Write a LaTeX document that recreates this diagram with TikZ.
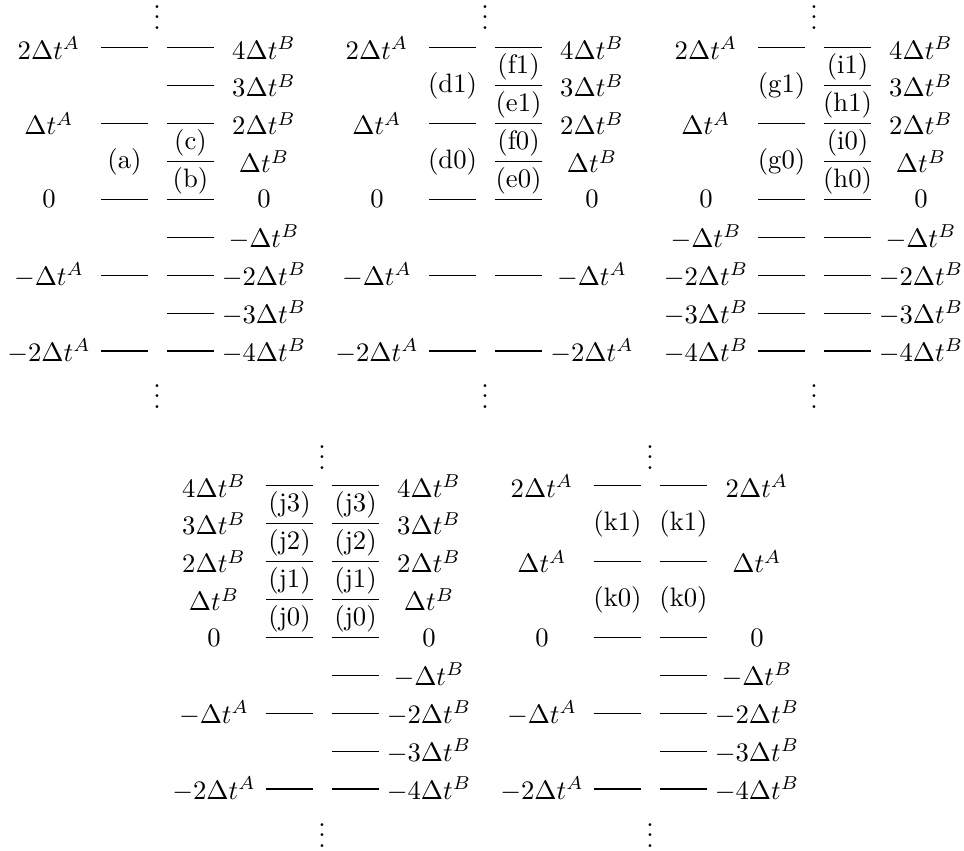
\documentclass[tikz,border=0pt]{standalone}
\newcommand\LevL[2]{\foreach \k/\t [count=\i] in {#2}{%
  \coordinate (#1La\i) at (-56,{-37.9*(\k)});
  \coordinate (#1Lb\i) at (-9,{-37.9*(\k)});
  \draw[lvl] (#1La\i) -- (#1Lb\i);
  \node[val] (#1Lt\i) at (-108,{-37.9*(\k)}) {$\t$};}}
\newcommand\LevR[2]{\foreach \k/\t [count=\i] in {#2}{%
  \coordinate (#1Ra\i) at (10,{-37.9*(\k)});
  \coordinate (#1Rb\i) at (57,{-37.9*(\k)});
  \draw[lvl] (#1Ra\i) -- (#1Rb\i);
  \node[val] (#1Rt\i) at (107,{-37.9*(\k)}) {$\t$};}}
\newcommand\TagN[4]{\node[tagn] (#1) at (#2,{-37.9*(#3)}) {#4};}
\begin{document}
\begin{tikzpicture}[x=0.375pt,y=-0.375pt,
  lvl/.style={line width=0.4pt},
  val/.style={inner sep=1pt},
  tagn/.style={inner sep=0pt},
  dots/.style={inner sep=0pt,anchor=base,text height=9.3pt,text depth=0pt}]
\useasboundingbox (0,0) rectangle (964,850);

% Panel 1
\begin{scope}[shift={(157,199.4)}]
\LevL{A}{4/2\Delta t^A, 2/\Delta t^A, 0/0, -2/-\Delta t^A, -4/-2\Delta t^A}
\LevR{A}{4/4\Delta t^B, 3/3\Delta t^B, 2/2\Delta t^B, 1/\Delta t^B, 0/0, -1/-\Delta t^B, -2/-2\Delta t^B, -3/-3\Delta t^B, -4/-4\Delta t^B}
\TagN{ta}{-32.5}{1}{(a)}
\TagN{tc}{33.5}{1.5}{(c)}
\TagN{tb}{33.5}{0.5}{(b)}
\node[dots] (Au) at (0,-170) {$\vdots$};
\node[dots] (Ad) at (0,209) {$\vdots$};
\end{scope}

% Panel 2
\begin{scope}[shift={(485,199.4)}]
\LevL{B}{4/2\Delta t^A, 2/\Delta t^A, 0/0, -2/-\Delta t^A, -4/-2\Delta t^A}
\LevR{B}{4/4\Delta t^B, 3/3\Delta t^B, 2/2\Delta t^B, 1/\Delta t^B, 0/0, -2/-\Delta t^A, -4/-2\Delta t^A}
\TagN{td1}{-32.5}{3}{(d1)}
\TagN{td0}{-32.5}{1}{(d0)}
\TagN{tf1}{33.5}{3.5}{(f1)}
\TagN{te1}{33.5}{2.5}{(e1)}
\TagN{tf0}{33.5}{1.5}{(f0)}
\TagN{te0}{33.5}{0.5}{(e0)}
\node[dots] (Bu) at (0,-170) {$\vdots$};
\node[dots] (Bd) at (0,209) {$\vdots$};
\end{scope}

% Panel 3
\begin{scope}[shift={(814,199.4)}]
\LevL{C}{4/2\Delta t^A, 2/\Delta t^A, 0/0, -1/-\Delta t^B, -2/-2\Delta t^B, -3/-3\Delta t^B, -4/-4\Delta t^B}
\LevR{C}{4/4\Delta t^B, 3/3\Delta t^B, 2/2\Delta t^B, 1/\Delta t^B, 0/0, -1/-\Delta t^B, -2/-2\Delta t^B, -3/-3\Delta t^B, -4/-4\Delta t^B}
\TagN{tg1}{-32.5}{3}{(g1)}
\TagN{tg0}{-32.5}{1}{(g0)}
\TagN{ti1}{33.5}{3.5}{(i1)}
\TagN{th1}{33.5}{2.5}{(h1)}
\TagN{ti0}{33.5}{1.5}{(i0)}
\TagN{th0}{33.5}{0.5}{(h0)}
\node[dots] (Cu) at (0,-170) {$\vdots$};
\node[dots] (Cd) at (0,209) {$\vdots$};
\end{scope}

% Panel 4
\begin{scope}[shift={(322,637.4)}]
\LevL{D}{4/4\Delta t^B, 3/3\Delta t^B, 2/2\Delta t^B, 1/\Delta t^B, 0/0, -2/-\Delta t^A, -4/-2\Delta t^A}
\LevR{D}{4/4\Delta t^B, 3/3\Delta t^B, 2/2\Delta t^B, 1/\Delta t^B, 0/0, -1/-\Delta t^B, -2/-2\Delta t^B, -3/-3\Delta t^B, -4/-4\Delta t^B}
\TagN{tj3l}{-32.5}{3.5}{(j3)}
\TagN{tj2l}{-32.5}{2.5}{(j2)}
\TagN{tj1l}{-32.5}{1.5}{(j1)}
\TagN{tj0l}{-32.5}{0.5}{(j0)}
\TagN{tj3r}{33.5}{3.5}{(j3)}
\TagN{tj2r}{33.5}{2.5}{(j2)}
\TagN{tj1r}{33.5}{1.5}{(j1)}
\TagN{tj0r}{33.5}{0.5}{(j0)}
\node[dots] (Du) at (0,-168) {$\vdots$};
\node[dots] (Dd) at (0,210) {$\vdots$};
\end{scope}

% Panel 5
\begin{scope}[shift={(650,637.4)}]
\LevL{E}{4/2\Delta t^A, 2/\Delta t^A, 0/0, -2/-\Delta t^A, -4/-2\Delta t^A}
\LevR{E}{4/2\Delta t^A, 2/\Delta t^A, 0/0, -1/-\Delta t^B, -2/-2\Delta t^B, -3/-3\Delta t^B, -4/-4\Delta t^B}
\TagN{tk1l}{-32.5}{3}{(k1)}
\TagN{tk0l}{-32.5}{1}{(k0)}
\TagN{tk1r}{33.5}{3}{(k1)}
\TagN{tk0r}{33.5}{1}{(k0)}
\node[dots] (Eu) at (0,-168) {$\vdots$};
\node[dots] (Ed) at (0,210) {$\vdots$};
\end{scope}
\end{tikzpicture}
\end{document}
